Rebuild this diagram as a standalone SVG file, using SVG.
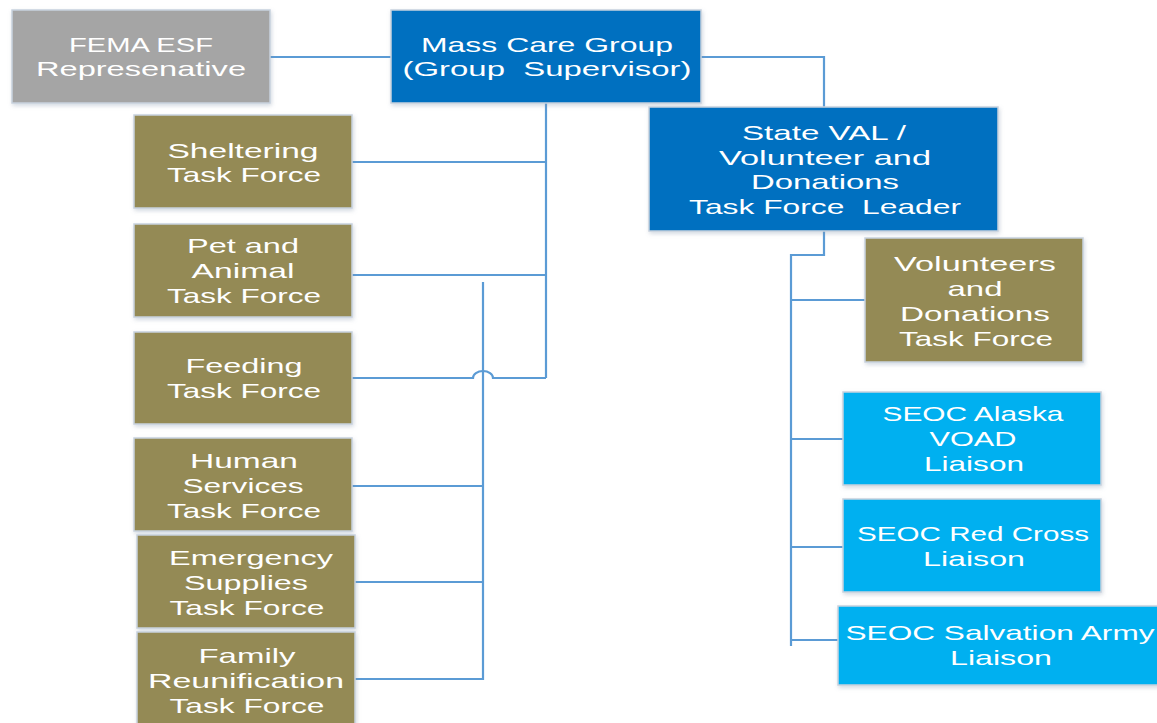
<svg xmlns="http://www.w3.org/2000/svg" width="1157" height="723" viewBox="0 0 1157 723">
<defs>
<filter id="sh" x="-5%" y="-5%" width="115%" height="120%">
<feDropShadow dx="1" dy="2" stdDeviation="2" flood-color="#8090a8" flood-opacity="0.35"/>
</filter>
<style>
.box{stroke:#c8d2de;stroke-width:1.5;filter:url(#sh)}
.gray{fill:#a5a5a5}
.blue{fill:#0070c0}
.olive{fill:#948a54}
.cyan{fill:#00b0f0}
text{font-family:"Liberation Sans","DejaVu Sans",sans-serif;font-size:21px;fill:#ffffff;text-anchor:middle;white-space:pre}
.con{fill:none;stroke:#5b9bd5;stroke-width:2.2}
</style>
</defs>
<rect width="1157" height="723" fill="#ffffff"/>
<g id="connectors">
<path class="con" d="M270,57 H391"/>
<path class="con" d="M701,57 H824 V107"/>
<path class="con" d="M546,103 V378"/>
<path class="con" d="M352,162 H546"/>
<path class="con" d="M352,275 H546"/>
<path class="con" d="M352,378 H473 A10,7 0 0 1 493,378 H546"/>
<path class="con" d="M483,282 V680"/>
<path class="con" d="M352,486 H483"/>
<path class="con" d="M355,582 H483"/>
<path class="con" d="M355,679 H483"/>
<path class="con" d="M824,231 V255 H791 V646"/>
<path class="con" d="M791,300 H865"/>
<path class="con" d="M791,439 H843"/>
<path class="con" d="M791,547 H843"/>
<path class="con" d="M791,640 H838"/>
</g>
<g id="fema">
<rect class="box gray" x="12" y="10" width="258" height="93"/>
<text x="141" y="52" textLength="144" lengthAdjust="spacingAndGlyphs">FEMA ESF</text>
<text x="141" y="76" textLength="210" lengthAdjust="spacingAndGlyphs">Represenative</text>
</g>
<g id="masscare">
<rect class="box blue" x="391" y="10" width="310" height="93"/>
<text x="547" y="52" textLength="252" lengthAdjust="spacingAndGlyphs">Mass Care Group</text>
<text x="547" y="76" textLength="289" lengthAdjust="spacingAndGlyphs">(Group  Supervisor)</text>
</g>
<g id="sheltering">
<rect class="box olive" x="134" y="115" width="218" height="93"/>
<text x="243" y="158" textLength="151" lengthAdjust="spacingAndGlyphs">Sheltering</text>
<text x="244" y="182" textLength="154" lengthAdjust="spacingAndGlyphs">Task Force</text>
</g>
<g id="pet">
<rect class="box olive" x="134" y="224" width="218" height="93"/>
<text x="243" y="253" textLength="112" lengthAdjust="spacingAndGlyphs">Pet and</text>
<text x="243" y="278" textLength="103" lengthAdjust="spacingAndGlyphs">Animal</text>
<text x="244" y="303" textLength="154" lengthAdjust="spacingAndGlyphs">Task Force</text>
</g>
<g id="feeding">
<rect class="box olive" x="134" y="332" width="218" height="92"/>
<text x="244" y="373" textLength="117" lengthAdjust="spacingAndGlyphs">Feeding</text>
<text x="244" y="398" textLength="154" lengthAdjust="spacingAndGlyphs">Task Force</text>
</g>
<g id="human">
<rect class="box olive" x="134" y="438" width="218" height="93"/>
<text x="244" y="468" textLength="108" lengthAdjust="spacingAndGlyphs">Human</text>
<text x="243" y="493" textLength="121" lengthAdjust="spacingAndGlyphs">Services</text>
<text x="244" y="518" textLength="154" lengthAdjust="spacingAndGlyphs">Task Force</text>
</g>
<g id="emergency">
<rect class="box olive" x="137" y="535" width="218" height="93"/>
<text x="251" y="565" textLength="164" lengthAdjust="spacingAndGlyphs">Emergency</text>
<text x="246" y="590" textLength="124" lengthAdjust="spacingAndGlyphs">Supplies</text>
<text x="247" y="615" textLength="155" lengthAdjust="spacingAndGlyphs">Task Force</text>
</g>
<g id="family">
<rect class="box olive" x="137" y="632" width="218" height="96"/>
<text x="247" y="663" textLength="97" lengthAdjust="spacingAndGlyphs">Family</text>
<text x="246" y="688" textLength="196" lengthAdjust="spacingAndGlyphs">Reunification</text>
<text x="247" y="713" textLength="155" lengthAdjust="spacingAndGlyphs">Task Force</text>
</g>
<g id="stateval">
<rect class="box blue" x="649" y="107" width="349" height="124"/>
<text x="824" y="140" textLength="164" lengthAdjust="spacingAndGlyphs">State VAL /</text>
<text x="825" y="165" textLength="212" lengthAdjust="spacingAndGlyphs">Volunteer and</text>
<text x="825" y="189" textLength="148" lengthAdjust="spacingAndGlyphs">Donations</text>
<text x="825" y="214" textLength="272" lengthAdjust="spacingAndGlyphs">Task Force  Leader</text>
</g>
<g id="volunteers">
<rect class="box olive" x="865" y="238" width="218" height="124"/>
<text x="975" y="271" textLength="162" lengthAdjust="spacingAndGlyphs">Volunteers</text>
<text x="975" y="296" textLength="55" lengthAdjust="spacingAndGlyphs">and</text>
<text x="975" y="321" textLength="150" lengthAdjust="spacingAndGlyphs">Donations</text>
<text x="976" y="346" textLength="154" lengthAdjust="spacingAndGlyphs">Task Force</text>
</g>
<g id="alaska">
<rect class="box cyan" x="843" y="392" width="258" height="93"/>
<text x="973" y="421" textLength="181" lengthAdjust="spacingAndGlyphs">SEOC Alaska</text>
<text x="973" y="446" textLength="87" lengthAdjust="spacingAndGlyphs">VOAD</text>
<text x="974" y="471" textLength="100" lengthAdjust="spacingAndGlyphs">Liaison</text>
</g>
<g id="redcross">
<rect class="box cyan" x="843" y="499" width="258" height="93"/>
<text x="973" y="541" textLength="232" lengthAdjust="spacingAndGlyphs">SEOC Red Cross</text>
<text x="974" y="566" textLength="102" lengthAdjust="spacingAndGlyphs">Liaison</text>
</g>
<g id="salvation">
<rect class="box cyan" x="838" y="606" width="326" height="79"/>
<text x="1000" y="640" textLength="309" lengthAdjust="spacingAndGlyphs">SEOC Salvation Army</text>
<text x="1001" y="665" textLength="102" lengthAdjust="spacingAndGlyphs">Liaison</text>
</g>
</svg>
